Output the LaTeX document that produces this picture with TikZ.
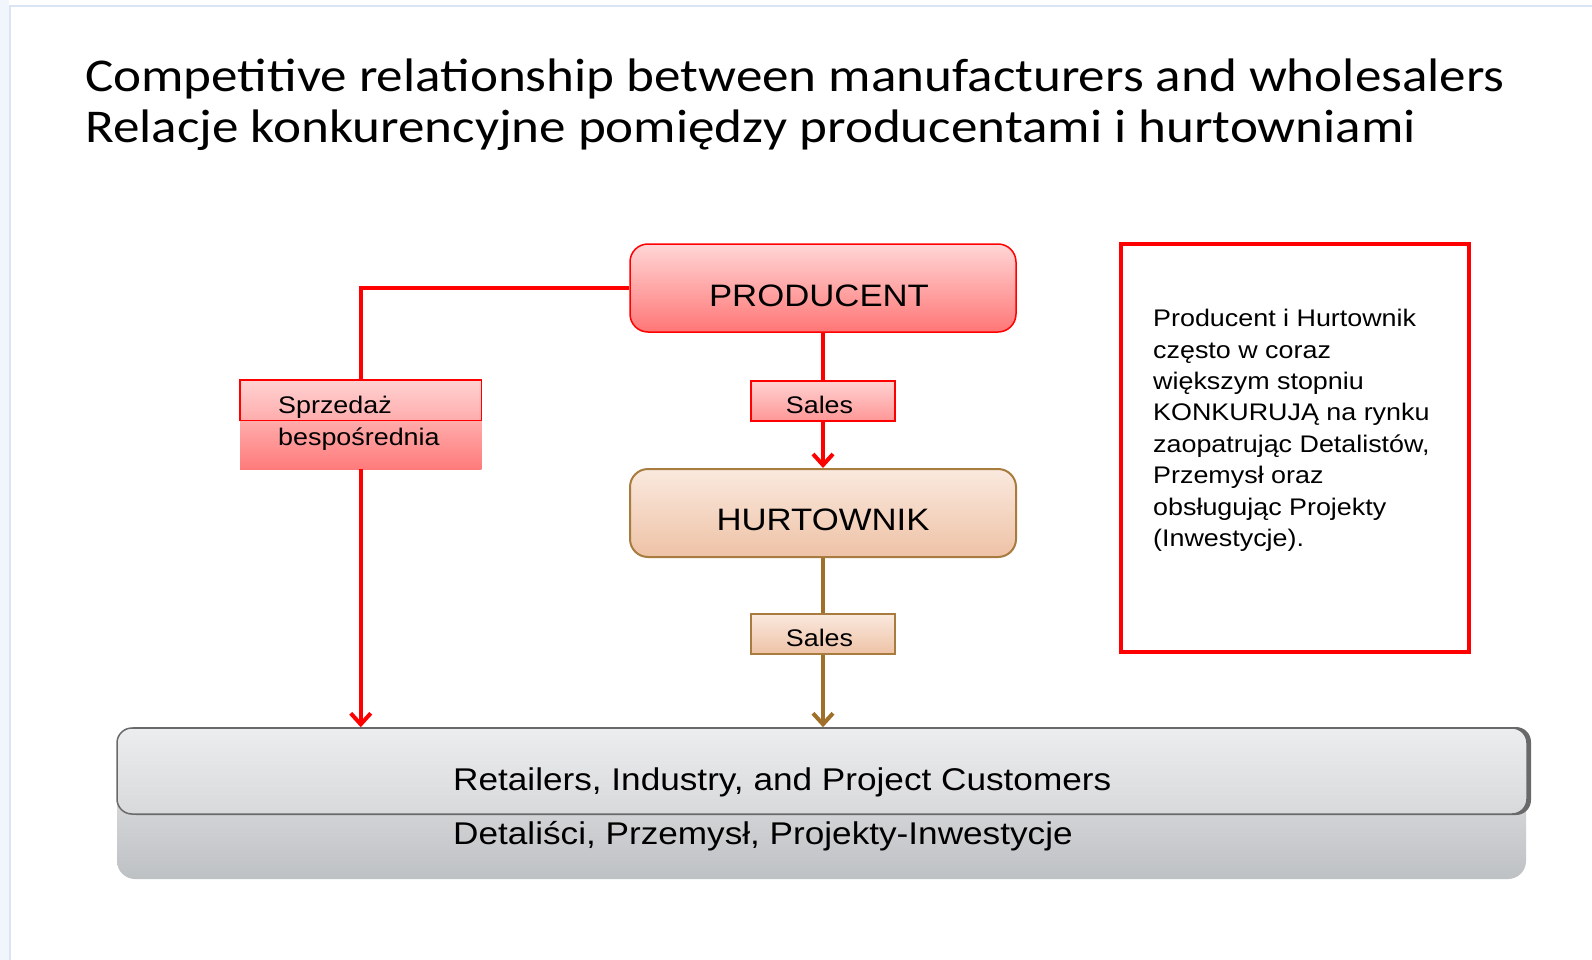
\documentclass[tikz,border=0pt]{standalone}
\usepackage{fontspec}
\setmainfont{Liberation Sans}
\newfontfamily\bodyfont[FakeStretch=1.12]{Liberation Sans}
\newfontfamily\titlefont[FakeStretch=1.13]{Carlito}
\usetikzlibrary{arrows.meta,calc}
\definecolor{myred}{RGB}{255,0,0}
\definecolor{brownline}{RGB}{160,112,42}
\definecolor{prodtop}{RGB}{255,214,214}
\definecolor{prodbot}{RGB}{255,118,118}
\definecolor{salestop}{RGB}{255,210,210}
\definecolor{salesbot}{RGB}{255,150,150}
\definecolor{sprlowtop}{RGB}{255,172,172}
\definecolor{sprlowbot}{RGB}{255,122,122}
\definecolor{hurttop}{RGB}{250,233,222}
\definecolor{hurtbot}{RGB}{238,194,166}
\definecolor{hurtborder}{RGB}{168,124,62}
\definecolor{custtop}{RGB}{236,237,239}
\definecolor{custmid}{RGB}{216,217,219}
\definecolor{custbot}{RGB}{190,193,196}
\definecolor{custborder}{RGB}{105,105,105}
\definecolor{framecol}{RGB}{218,228,245}
\definecolor{framefill}{RGB}{241,246,253}
\tikzset{
  bigbox/.style={rounded corners=18pt, minimum width=386pt, minimum height=88pt, inner sep=0pt,
    font=\bodyfont\fontsize{31}{36}\selectfont},
  prodbox/.style={bigbox, draw=myred, line width=1.5pt, top color=prodtop, bottom color=prodbot,
    text height=36pt, text depth=0pt},
  hurtbox/.style={bigbox, draw=hurtborder, line width=2pt, top color=hurttop, bottom color=hurtbot,
    text height=34pt, text depth=0pt},
  salesbox/.style={minimum width=144pt, minimum height=40pt, inner sep=0pt,
    font=\bodyfont\fontsize{24}{28}\selectfont, text height=24pt, text depth=0pt},
  redsales/.style={salesbox, draw=myred, line width=1.5pt, top color=salestop, bottom color=salesbot},
  brownsales/.style={salesbox, draw=hurtborder, line width=1.5pt, top color=hurttop, bottom color=hurtbot},
  redline/.style={draw=myred, line width=4pt},
  brownconn/.style={draw=brownline, line width=4pt},
  tip/.style={-{Straight Barb[length=11pt,width=20pt]}},
  smalltext/.style={font=\bodyfont\fontsize{24}{31.4}\selectfont, align=left, inner sep=0pt, anchor=base west},
}
\begin{document}
\begin{tikzpicture}[x=1pt,y=-1pt]
\useasboundingbox (0,0) rectangle (1592,960);
\fill[white] (0,0) rectangle (1592,960);
% frame
\fill[framefill] (0,0) rectangle (9,960);
\draw[framecol, line width=2.5pt] (10,960) -- (10,6) -- (1592,6);

% title (base anchor = baseline of the last line)
\node[anchor=base west, align=left, inner sep=0pt, font=\titlefont\fontsize{47}{51}\selectfont] (title) at (85,143)
  {Competitive relationship between manufacturers and wholesalers\\Relacje konkurencyjne pomiędzy producentami i hurtowniami};

% main boxes
\node[prodbox] (prod) at (823,288) {PRODUCENT\kern8pt};
\node[hurtbox] (hurt) at (823,513) {HURTOWNIK};
\node[redsales] (sales1) at (823,401) {Sales\kern7pt};
\node[brownsales] (sales2) at (823,634) {Sales\kern7pt};

% Sprzedaz box
\node[minimum width=241pt, minimum height=89pt, inner sep=0pt] (spr) at (360.75,424.75) {};
\shade[top color=salestop, bottom color=sprlowtop] (spr.north west) rectangle ($(spr.north east)+(0,40.5)$);
\shade[top color=sprlowtop, bottom color=sprlowbot] ($(spr.north west)+(0,40.5)$) rectangle (spr.south east);
\draw[myred, line width=1.5pt] (spr.north west) rectangle ($(spr.north east)+(0,40.5)$);
\node[smalltext] (sprtext) at (278,445) {Sprzedaż\\bespośrednia};

% customers
\shade[rounded corners=18pt, top color=custmid, bottom color=custbot] (117,790) rectangle (1526,879);
\fill[custborder, rounded corners=15pt] (121,727) rectangle (1531,815);
\node[rounded corners=15pt, draw=custborder, line width=1.5pt, top color=custtop, bottom color=custmid,
  minimum width=1410pt, minimum height=86pt, inner sep=0pt] (cust) at (822,771) {};
\node[anchor=base west, align=left, inner sep=0pt, font=\bodyfont\fontsize{31.4}{54}\selectfont] (custtext) at (453,844)
  {Retailers, Industry, and Project Customers\\Detaliści, Przemysł, Projekty-Inwestycje};

% note box
\node[draw=myred, line width=4pt, minimum width=348pt, minimum height=408pt, inner sep=0pt] (note) at (1295,448) {};
\node[smalltext] (notetext) at (1153,546.5)
  {Producent i Hurtownik\\często w coraz\\większym stopniu\\KONKURUJĄ na rynku\\zaopatrując Detalistów,\\Przemysł oraz\\obsługując Projekty\\(Inwestycje).};

% connectors
\draw[redline] (prod.west) -| (spr.north);
\draw[redline, tip] (spr.south) -- (spr.south |- cust.north);
\draw[redline] (prod.south) -- (sales1.north);
\draw[redline, tip] (sales1.south) -- (hurt.north);
\draw[brownconn] (hurt.south) -- (sales2.north);
\draw[brownconn, tip] (sales2.south) -- (cust.north -| sales2.south);
\end{tikzpicture}
\end{document}
